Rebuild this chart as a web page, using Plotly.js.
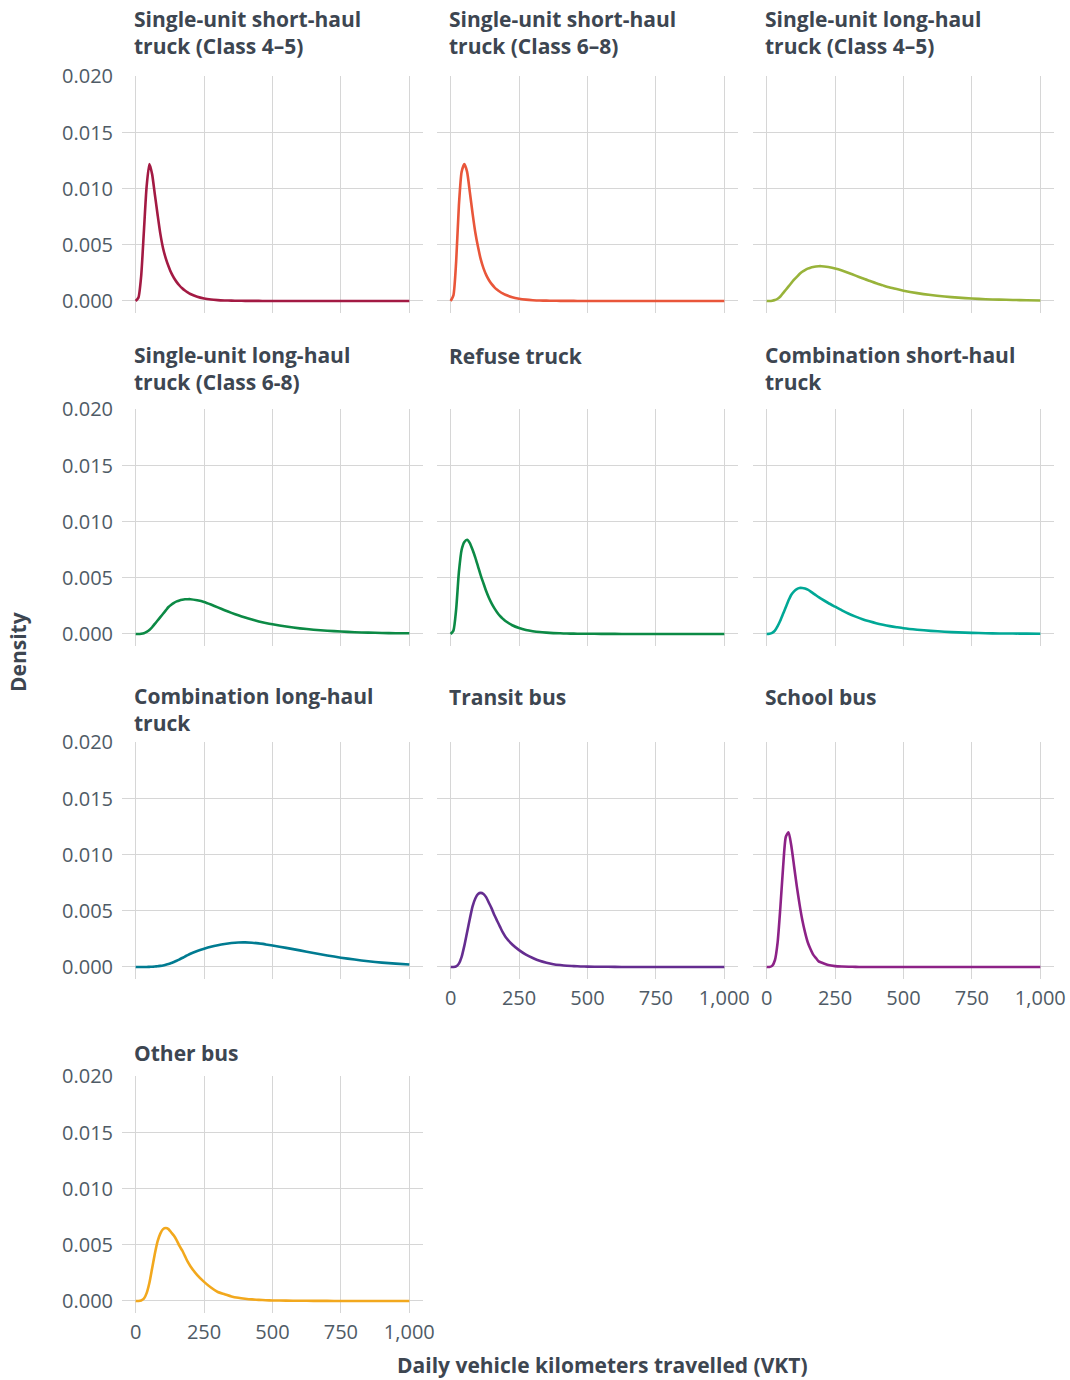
<!DOCTYPE html>
<html>
<head>
<meta charset="utf-8">
<script src="https://cdn.plot.ly/plotly-3.0.1.min.js"></script>
<style>
html,body{margin:0;padding:0;background:#fff;}
#chart{width:1070px;height:1380px;}
</style>
</head>
<body>
<div id="chart"></div>
<script>
// Daily VKT grid (km)
const vkt = [0,10,20,30,40,50,60,70,80,90,100,110,120,130,140,150,160,170,180,190,200,
  225,250,275,300,325,350,375,400,425,450,475,500,
  550,600,650,700,750,800,850,900,950,1000];

const categories = [
  "Single-unit short-haul<br>truck (Class 4\u20135)",
  "Single-unit short-haul<br>truck (Class 6\u20138)",
  "Single-unit long-haul<br>truck (Class 4\u20135)",
  "Single-unit long-haul<br>truck (Class 6-8)",
  "Refuse truck",
  "Combination short-haul<br>truck",
  "Combination long-haul<br>truck",
  "Transit bus",
  "School bus",
  "Other bus"
];

const colors = ["#a31a43","#e9563a","#98b33a","#0c8a45","#0c8a45","#00a896","#007b91","#652d90","#8d2287","#f2a81d"];

const suShort45 = [0,0.0003,0.0022,0.0062,0.0102,0.0122,0.0113,0.0095,0.0077,0.0060,0.0047,0.0038,0.0031,0.0025,0.00205,0.00168,0.00138,0.00113,0.00093,0.00076,0.00062,
  0.00037,0.00022,0.00013,0.00008,0.00005,0.00003,0.00002,0.00001,0.00001,0.00001,0,0,
  0,0,0,0,0,0,0,0,0,0];
const suShort68 = [0,0.0005,0.0035,0.0085,0.0115,0.0122,0.0115,0.0097,0.0078,0.0061,0.0048,0.0037,0.0029,0.0023,0.00185,0.0015,0.00122,0.0010,0.00082,0.00067,0.00055,
  0.00033,0.0002,0.00012,0.00007,0.00004,0.00003,0.00002,0.00001,0.00001,0.00001,0,0,
  0,0,0,0,0,0,0,0,0,0];
const suLong45 = [0,0,0.00002,0.00008,0.0002,0.0004,0.0007,0.0010,0.0013,0.0016,0.0019,0.00215,0.0024,0.0026,0.00275,0.00288,0.00297,0.00303,0.00307,0.0031,0.0031,
  0.00302,0.0029,0.00272,0.0025,0.00226,0.00202,0.0018,0.00158,0.00139,0.00121,0.00106,0.00092,
  0.0007,0.00053,0.0004,0.0003,0.00022,0.00016,0.00012,0.00009,0.00007,0.00005];
const suLong68 = [0,0,0.00002,0.00007,0.00018,0.00035,0.0006,0.0009,0.0012,0.0015,0.0018,0.0021,0.0024,0.0026,0.00277,0.0029,0.00299,0.00305,0.00309,0.0031,0.0031,
  0.0030,0.00285,0.00262,0.00237,0.00212,0.00188,0.00166,0.00146,0.00128,0.00112,0.00098,0.00086,
  0.00066,0.0005,0.00038,0.00029,0.00022,0.00016,0.00012,0.00009,0.00007,0.00006];
const refuse = [0,0.0003,0.0022,0.0055,0.0075,0.0082,0.0084,0.0081,0.0075,0.0068,0.0060,0.0052,0.0045,0.0038,0.0032,0.0027,0.00228,0.00192,0.00162,0.00137,0.00116,
  0.00078,0.00053,0.00036,0.00025,0.00017,0.00012,0.00008,0.00006,0.00004,0.00003,0.00002,0.00002,
  0.00001,0.00001,0,0,0,0,0,0,0,0];
const combShort = [0,0.00002,0.0001,0.0003,0.0007,0.0012,0.0018,0.0024,0.0030,0.0035,0.0038,0.0040,0.0041,0.0041,0.00405,0.00395,0.0038,0.00362,0.00345,0.00328,0.00312,
  0.00276,0.00243,0.0021,0.0018,0.00155,0.00132,0.00113,0.00096,0.00082,0.0007,0.0006,0.00051,
  0.00038,0.00028,0.0002,0.00014,0.0001,0.00007,0.00005,0.00004,0.00003,0.00002];
const combLong = [0,0,0,0,0,0.00001,0.00002,0.00004,0.00007,0.0001,0.00014,0.0002,0.00027,0.00035,0.00045,0.00056,0.00068,0.0008,0.00093,0.00106,0.00118,
  0.00142,0.00162,0.0018,0.00194,0.00205,0.00213,0.00218,0.00219,0.00216,0.0021,0.00201,0.00191,
  0.0017,0.00148,0.00125,0.00103,0.00083,0.00066,0.00051,0.00039,0.0003,0.00022];
const transitBus = [0,0,0.00005,0.0003,0.0009,0.0019,0.0031,0.0043,0.0054,0.0061,0.0065,0.0066,0.0065,0.0062,0.0057,0.0052,0.0046,0.0041,0.0036,0.0031,0.0027,
  0.0020,0.0015,0.0011,0.0008,0.00055,0.00038,0.00025,0.00017,0.00011,0.00008,0.00005,0.00003,
  0.00002,0.00001,0,0,0,0,0,0,0,0];
const schoolBus = [0,0,0.0001,0.0006,0.0022,0.0053,0.0089,0.0116,0.0120,0.0108,0.0090,0.0072,0.0056,0.0042,0.0031,0.0022,0.0016,0.0011,0.0008,0.0005,0.0004,
  0.00018,0.00008,0.00004,0.00002,0.00001,0,0,0,0,0,0,0,
  0,0,0,0,0,0,0,0,0,0];
const otherBus = [0,0,0.00005,0.0002,0.0007,0.0016,0.0029,0.0042,0.0053,0.0060,0.0064,0.0065,0.0064,0.0061,0.0058,0.0054,0.0049,0.0045,0.0040,0.0035,0.0031,
  0.0023,0.0017,0.0012,0.0008,0.0006,0.0004,0.00028,0.0002,0.00014,0.0001,0.00007,0.00005,
  0.00003,0.00002,0.00001,0.00001,0,0,0,0,0,0];

const series = [suShort45,suShort68,suLong45,suLong68,refuse,combShort,combLong,transitBus,schoolBus,otherBus];

const xTicks = [0,250,500,750,1000];
const xTickText = ["0","250","500","750","1,000"];
const yTicks = [0,0.005,0.010,0.015,0.020];
const yTickText = ["0.000","0.005","0.010","0.015","0.020"];

// ---------- layout geometry (pixels) ----------
const W = 1070, H = 1380;
const colPx = [[122,423],[437,738],[753,1054]];
const rowPx = [[76,313],[409,646],[742,979],[1076,1313]];
const titleY = [33,33,33, 368.5,356,368.5, 709.5,697,697, 1053];
const titleX = [132,447,763];

const FONT = "Open Sans, Noto Sans, sans-serif";
const tickFont = {family: FONT, size: 20, color: "#4f5b66"};
const titleFont = {family: FONT, size: 21, color: "#3d4651"};
const gridCol = "#d6d6d6";

const data = [];
const layout = {
  width: W, height: H,
  margin: {l:0, r:0, t:0, b:0},
  paper_bgcolor: "#ffffff",
  plot_bgcolor: "#ffffff",
  showlegend: false,
  annotations: []
};

for (let i = 0; i < series.length; i++) {
  const r = Math.floor(i / 3), c = i % 3;
  const n = i + 1;
  const xa = n === 1 ? "x" : "x" + n;
  const ya = n === 1 ? "y" : "y" + n;
  data.push({
    type: "scatter", mode: "lines",
    x: vkt, y: series[i],
    xaxis: xa, yaxis: ya,
    line: {color: colors[i], width: 2.6, shape: "spline", smoothing: 0.6},
    hoverinfo: "skip"
  });
  const showX = (i === 7 || i === 8 || i === 9);
  const showY = (c === 0);
  layout["xaxis" + (n === 1 ? "" : n)] = {
    domain: [colPx[c][0] / W, colPx[c][1] / W],
    anchor: ya,
    range: [-50, 1050],
    tickvals: xTicks, ticktext: xTickText,
    showticklabels: showX,
    tickfont: tickFont,
    ticks: "", showgrid: true, gridcolor: gridCol, gridwidth: 1,
    zeroline: false, showline: false,
    ticklabelstandoff: 5
  };
  layout["yaxis" + (n === 1 ? "" : n)] = {
    domain: [1 - rowPx[r][1] / H, 1 - rowPx[r][0] / H],
    anchor: xa,
    range: [-0.00107, 0.02004],
    tickvals: yTicks, ticktext: yTickText,
    showticklabels: showY,
    tickfont: tickFont,
    ticks: "", showgrid: true, gridcolor: gridCol, gridwidth: 1,
    zeroline: false, showline: false,
    ticklabelstandoff: 8
  };
  layout.annotations.push({
    xref: "paper", yref: "paper",
    x: titleX[c] / W, y: 1 - titleY[i] / H,
    xanchor: "left", yanchor: "middle", align: "left",
    text: "<b>" + categories[i] + "</b>",
    showarrow: false,
    font: titleFont
  });
}

layout.annotations.push({
  xref: "paper", yref: "paper",
  x: 602 / W, y: 1 - 1365 / H,
  xanchor: "center", yanchor: "middle",
  text: "<b>Daily vehicle kilometers travelled (VKT)</b>",
  showarrow: false,
  font: titleFont
});
layout.annotations.push({
  xref: "paper", yref: "paper",
  x: 18 / W, y: 1 - 652 / H,
  xanchor: "center", yanchor: "middle",
  text: "<b>Density</b>", textangle: -90,
  showarrow: false,
  font: titleFont
});

Plotly.newPlot("chart", data, layout, {displayModeBar: false, staticPlot: true});
</script>
</body>
</html>
